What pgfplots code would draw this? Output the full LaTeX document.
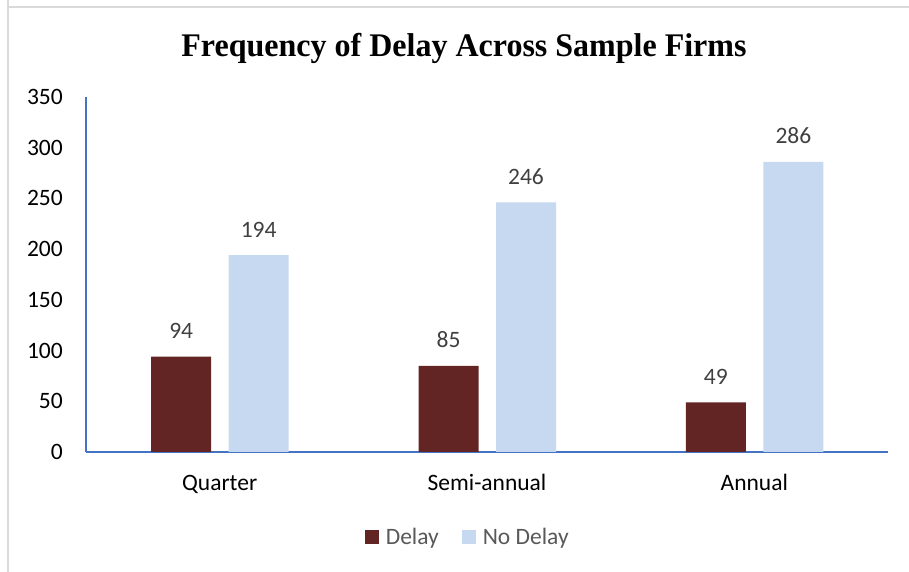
\documentclass[border=0pt]{standalone}
\usepackage{fontspec}
\usepackage{graphicx}
\usepackage{pgfplots}
\pgfplotsset{compat=1.18}
\setmainfont{Carlito}
\newfontfamily\titlefont{Liberation Serif}
\definecolor{delay}{HTML}{632523}
\definecolor{nodelay}{HTML}{C6D9F0}
\definecolor{axblue}{HTML}{4472C4}
\definecolor{framegray}{HTML}{D9D9D9}
\definecolor{lbl}{HTML}{404040}
\definecolor{leg}{HTML}{595959}
\newcommand{\fs}{\fontsize{23.5}{28}\selectfont}
\begin{document}
\begin{tikzpicture}[x=1pt,y=1pt]
\useasboundingbox (0,0) rectangle (909,572);
\draw[framegray, line width=1.5pt] (8,572) -- (8,565) -- (909,565);
\draw[framegray, line width=1.5pt] (8,565) -- (8,0);
\node[anchor=base, inner sep=0pt] at (464,515) {\titlefont\bfseries\fontsize{33}{38}\selectfont\scalebox{0.97}[1]{Frequency of Delay Across Sample Firms}};
\begin{axis}[
  at={(86pt,120pt)}, anchor=south west,
  scale only axis, width=802pt, height=355pt,
  xmin=-0.5, xmax=2.5, ymin=0, ymax=350,
  ytick={0,50,...,350},
  xtick={0,1,2}, xticklabels={Quarter,Semi-annual,Annual},
  axis x line*=bottom, axis y line*=left,
  axis line style={axblue, line width=1.3pt, -},
  major tick length=0pt,
  tick style={draw=none},
  /pgf/number format/assume math mode=true,
  yticklabel style={font=\fs, inner sep=0pt, anchor=east, xshift=-23pt},
  xticklabel style={font=\fs, inner sep=0pt, anchor=base, yshift=-39pt},
  ybar, bar width=0.2245,
  nodes near coords,
  every node near coord/.append style={font=\fs, text=lbl, anchor=base, inner sep=0pt, yshift=18pt},
  legend style={at={(0.476,-0.239)}, anchor=center, draw=none, legend columns=2,
    font=\fs, text=leg, inner sep=0pt,
    /tikz/every odd column/.append style={column sep=5pt},
    /tikz/every even column/.append style={column sep=21pt}},
  legend cell align=left,
  clip=false,
]
\addplot[fill=delay, draw=none, bar shift=-0.144,
  legend image code/.code={\fill[delay] (0pt,-7pt) rectangle (14pt,7pt);}]
  coordinates {(0,94) (1,85) (2,49)};
\addlegendentry{Delay}
\addplot[fill=nodelay, draw=none, bar shift=0.146,
  legend image code/.code={\fill[nodelay] (0pt,-7pt) rectangle (14pt,7pt);}]
  coordinates {(0,194) (1,246) (2,286)};
\addlegendentry{No Delay}
\end{axis}
\end{tikzpicture}
\end{document}
